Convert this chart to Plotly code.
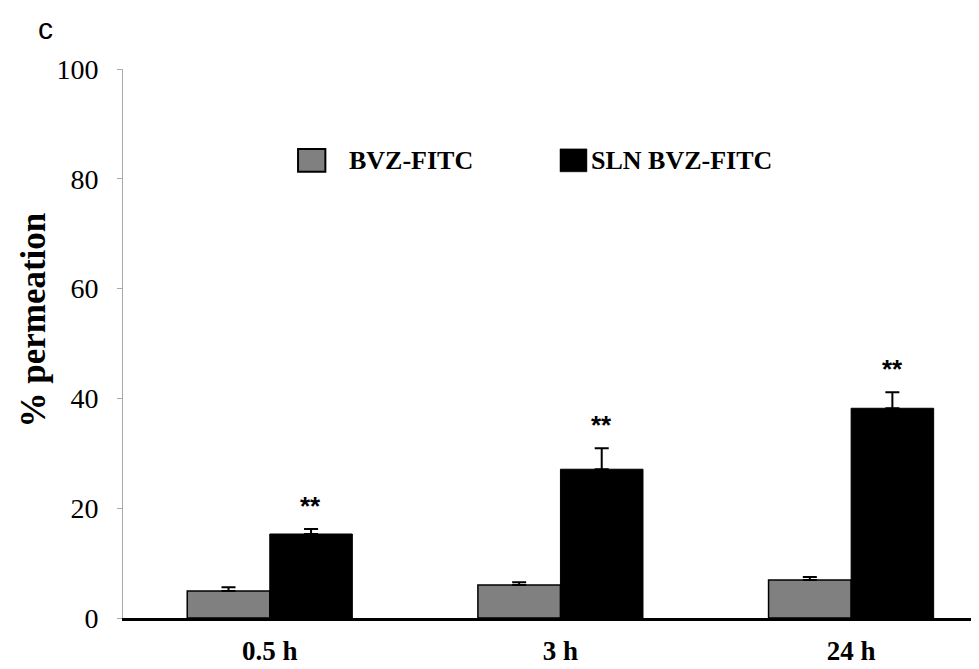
import plotly.graph_objects as go

categories = ["0.5 h", "3 h", "24 h"]
bvz_fitc = [4.9, 6.0, 6.9]
bvz_fitc_err = [0.7, 0.5, 0.55]
sln_bvz_fitc = [15.3, 27.1, 38.2]
sln_bvz_fitc_err = [0.9, 3.8, 2.9]
y_ticks = [0, 20, 40, 60, 80, 100]
series_names = ["BVZ-FITC", "SLN BVZ-FITC"]
signif_labels = ["**", "**", "**"]

SERIF = "Liberation Serif, Times New Roman, serif"
SANS = "Liberation Sans, Arial, sans-serif"

fig = go.Figure()
fig.add_trace(go.Bar(
    x=categories, y=bvz_fitc, name=series_names[0],
    marker=dict(color="#808080", line=dict(color="black", width=1.5)),
    error_y=dict(type="data", array=bvz_fitc_err, symmetric=False,
                 arrayminus=[0, 0, 0], color="black", thickness=2, width=7),
    showlegend=False,
))
fig.add_trace(go.Bar(
    x=categories, y=sln_bvz_fitc, name=series_names[1],
    marker=dict(color="black", line=dict(color="black", width=1)),
    error_y=dict(type="data", array=sln_bvz_fitc_err, symmetric=False,
                 arrayminus=[0, 0, 0], color="black", thickness=2, width=7),
    showlegend=False,
))

# significance stars above SLN bars
for cat, v, e, s in zip(categories, sln_bvz_fitc, sln_bvz_fitc_err, signif_labels):
    fig.add_annotation(x=cat, y=v + e, xref="x", yref="y", text="<b>%s</b>" % s, showarrow=False,
                       xshift=41, yshift=6, yanchor="bottom",
                       font=dict(family=SANS, size=26, color="black"))

# legend drawn as shapes + text
legend_items = [
    (series_names[0], "#808080", 0.2045, 0.2364, 0.2615),
    (series_names[1], "black", 0.5105, 0.542, 0.5445),
]
for name, col, x0, x1, tx in legend_items:
    fig.add_shape(type="rect", xref="paper", yref="paper", x0=x0, x1=x1,
                  y0=0.8127, y1=0.8545, fillcolor=col,
                  line=dict(color="black", width=2 if col != "black" else 0.5))
    fig.add_annotation(xref="paper", yref="paper", x=tx, y=0.834, text="<b>%s</b>" % name,
                       showarrow=False, xanchor="left", yanchor="middle",
                       font=dict(family=SERIF, size=26, color="black"))

# y title
fig.add_annotation(xref="paper", yref="paper", x=-0.105, y=0.542,
                   text="<b>% permeation</b>", textangle=-90, showarrow=False,
                   xanchor="center", yanchor="middle",
                   font=dict(family=SERIF, size=35, color="black"))
# panel label
fig.add_annotation(xref="paper", yref="paper", x=-0.091, y=1.0745, text="c",
                   showarrow=False, xanchor="center", yanchor="middle",
                   font=dict(family=SANS, size=30, color="black"))

fig.update_layout(
    width=971, height=661,
    margin=dict(l=115, r=0, t=61, b=51),
    paper_bgcolor="white", plot_bgcolor="white",
    barmode="group", bargap=0.432, bargroupgap=0,
    showlegend=False,
)
fig.update_xaxes(
    type="category", range=[-0.505, 2.44],
    showline=True, linecolor="black", linewidth=2.5,
    ticks="", showgrid=False, zeroline=False,
    tickfont=dict(family=SERIF, size=27, color="black"),
    tickvals=categories, ticktext=["<b>%s</b>" % c for c in categories],
    ticklabelstandoff=7,
)
fig.update_yaxes(
    range=[0, 100], tickvals=y_ticks,
    showline=True, linecolor="#aaaaaa", linewidth=1,
    ticks="outside", ticklen=5, tickcolor="#aaaaaa", tickwidth=1,
    showgrid=False, zeroline=False,
    tickfont=dict(family=SERIF, size=28, color="black"),
    ticklabelstandoff=13,
)

fig.write_html("out.html")
